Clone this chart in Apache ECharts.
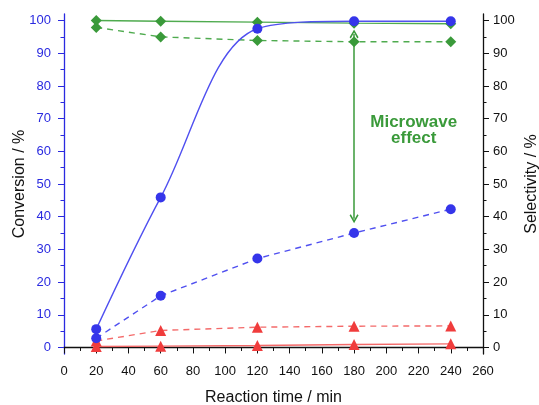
<!DOCTYPE html>
<html>
<head>
<meta charset="utf-8">
<script src="https://cdn.jsdelivr.net/npm/echarts@6/dist/echarts.min.js"></script>
<style>html,body{margin:0;padding:0;background:#fff}#c{width:539px;height:405px}</style>
</head>
<body>
<div id="c"></div>
<script>
const times = [20, 60, 120, 180, 240];
const convMW = [5.6, 45.9, 97.5, 99.8, 99.8];
const convConv = [2.8, 15.8, 27.2, 35.0, 42.3];
const selMW = [100, 99.8, 99.5, 99.2, 99.0];
const selConv = [97.9, 95.0, 93.9, 93.5, 93.5];
const byMW = [0.3, 0.4, 0.6, 0.9, 1.1];
const byConv = [2.0, 5.2, 6.2, 6.5, 6.6];
const yMajor = [0, 10, 20, 30, 40, 50, 60, 70, 80, 90, 100];
const yMinor = [5, 15, 25, 35, 45, 55, 65, 75, 85, 95];
const arrowFrom = [180, 95.9];
const arrowTo = [180, 39.4];
const noteAt = [217, 66.5];
const noteText = 'Microwave\neffect';

const BLUE = '#3535ea', BLUE_L = '#5050f0';
const GREEN = '#3a9a3a', GREEN_L = '#4fab4f';
const RED = '#f03c3c', RED_L = '#f46a6a';
const FONT = 'Liberation Sans, Arial, sans-serif';

function pts(ys) { return times.map((t, i) => [t, ys[i]]); }
function ser(name, ys, color, lcolor, symbol, size, dashed, smooth) {
  return {
    name, type: 'line', data: pts(ys), yAxisIndex: 0,
    symbol, symbolSize: size, smooth: smooth || false,
    itemStyle: { color },
    lineStyle: { color: lcolor, width: 1.4, type: dashed ? [6, 5] : 'solid' },
    z: 3
  };
}
const chevron = 'path://M5,0 L10,8 L8.6,9.2 L5,3.2 L1.4,9.2 L0,8 Z';

const yBase = { type: 'value', min: -2, max: 102, splitLine: { show: false } };

const chart = echarts.init(document.getElementById('c'), null, { renderer: 'canvas' });
chart.setOption({
  animation: false,
  backgroundColor: '#fff',
  grid: { left: 64, right: 56, top: 14, bottom: 51, containLabel: false, outerBoundsMode: 'none' },
  xAxis: {
    type: 'value', min: 0, max: 260, interval: 20,
    name: 'Reaction time / min', nameLocation: 'middle', nameGap: 36, nameMoveOverlap: false,
    nameTextStyle: { color: '#111', fontSize: 16, fontFamily: FONT },
    axisLine: { lineStyle: { color: '#111', width: 1.3 } },
    axisTick: { length: 6, lineStyle: { color: '#111' } },
    minorTick: { show: true, splitNumber: 2, length: 3.5, lineStyle: { color: '#111' } },
    axisLabel: { color: '#111', fontSize: 13, fontFamily: FONT, margin: 11 },
    splitLine: { show: false }
  },
  yAxis: [
    Object.assign({}, yBase, {
      position: 'left',
      name: 'Conversion / %', nameLocation: 'middle', nameGap: 36, nameRotate: 90, nameMoveOverlap: false,
      nameTextStyle: { color: '#111', fontSize: 16, fontFamily: FONT },
      axisLine: { show: true, lineStyle: { color: '#2a2ae0', width: 1.3 } },
      axisTick: { show: true, length: 6, customValues: yMajor, lineStyle: { color: '#2a2ae0' } },
      axisLabel: { color: '#2a2ae0', fontSize: 13, fontFamily: FONT, margin: 13, customValues: yMajor }
    }),
    Object.assign({}, yBase, {
      position: 'right',
      name: 'Selectivity / %', nameLocation: 'middle', nameGap: 41, nameRotate: 90, nameMoveOverlap: false,
      nameTextStyle: { color: '#111', fontSize: 16, fontFamily: FONT },
      axisLine: { show: true, lineStyle: { color: '#111', width: 1.3 } },
      axisTick: { show: true, length: 6, customValues: yMajor, lineStyle: { color: '#111' } },
      axisLabel: { color: '#111', fontSize: 13, fontFamily: FONT, margin: 10, customValues: yMajor }
    }),
    Object.assign({}, yBase, {
      position: 'left',
      axisLine: { show: false },
      axisTick: { show: true, length: 3.5, customValues: yMinor, lineStyle: { color: '#2a2ae0' } },
      axisLabel: { show: false }
    }),
    Object.assign({}, yBase, {
      position: 'right',
      axisLine: { show: false },
      axisTick: { show: true, length: 3.5, customValues: yMinor, lineStyle: { color: '#111' } },
      axisLabel: { show: false }
    })
  ],
  series: [
    ser('byConv', byConv, RED, RED_L, 'triangle', 11, true),
    ser('byMW', byMW, RED, RED_L, 'triangle', 11, false),
    ser('selConv', selConv, GREEN, GREEN_L, 'diamond', 11, true),
    ser('selMW', selMW, GREEN, GREEN_L, 'diamond', 11, false),
    ser('convConv', convConv, BLUE, BLUE_L, 'circle', 10, true),
    Object.assign(ser('convMW', convMW, BLUE, BLUE_L, 'circle', 10, false, 0.35), {
      markLine: {
        silent: true, animation: false,
        symbol: [chevron, chevron], symbolSize: [9, 9],
        lineStyle: { color: GREEN, width: 1.5, type: 'solid' },
        label: { show: false },
        data: [[{ coord: arrowFrom }, { coord: arrowTo }]]
      },
      markPoint: {
        silent: true, animation: false, symbol: 'circle', symbolSize: 0,
        label: {
          show: true, position: 'inside', formatter: noteText,
          color: GREEN, fontSize: 17, fontWeight: 'bold', fontFamily: FONT, lineHeight: 16, align: 'center'
        },
        data: [{ coord: noteAt, value: 0 }]
      }
    })
  ]
});
</script>
</body>
</html>
